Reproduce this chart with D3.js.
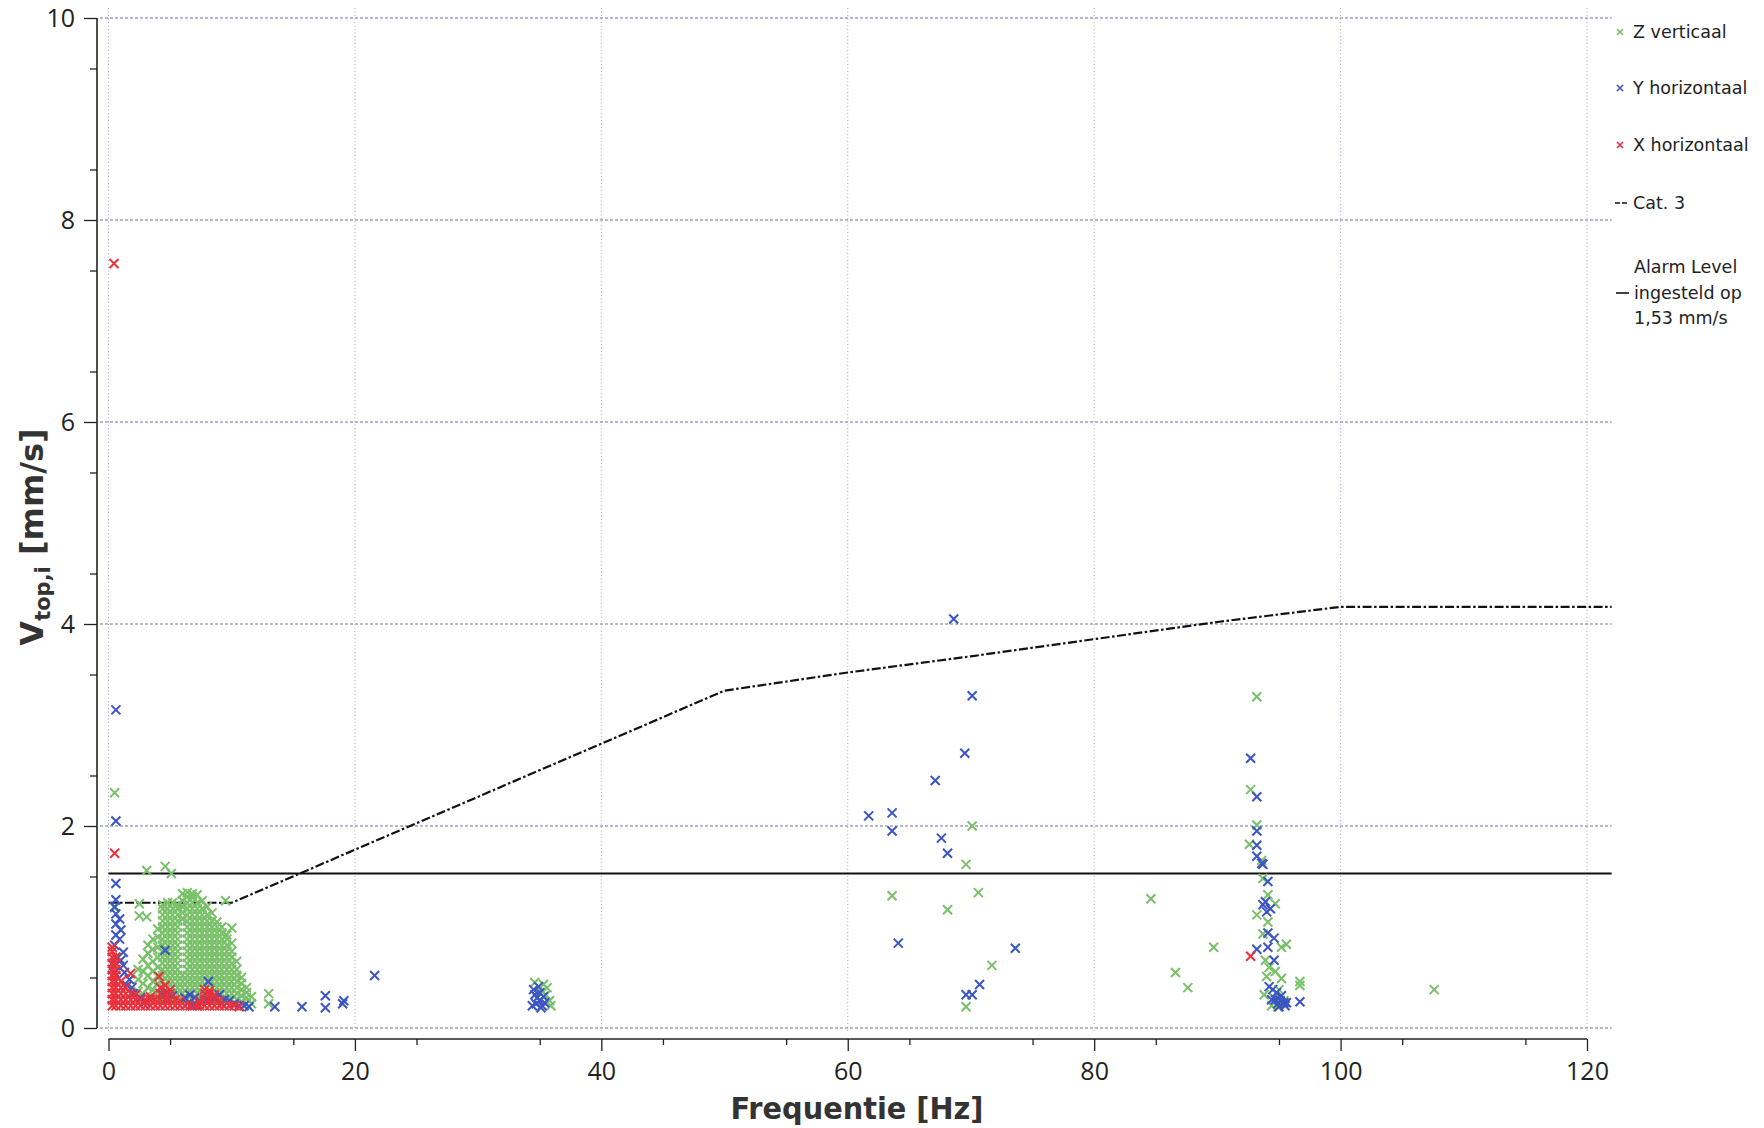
<!DOCTYPE html>
<html>
<head>
<meta charset="utf-8">
<script src="https://cdn.jsdelivr.net/npm/d3@7"></script>
<style>
  html, body { margin: 0; padding: 0; background: #fff; }
  svg { display: block; }
</style>
</head>
<body>
<svg id="chart" width="1764" height="1128"></svg>
<script>
// ---- axis ticks ----
const xTicks = [0, 20, 40, 60, 80, 100, 120];
const yTicks = [0, 2, 4, 6, 8, 10];

// ---- reference lines ----
const alarmLevel = 1.53;
const cat3Line = [[0, 1.24], [10, 1.24], [50, 3.34], [60, 3.52], [70, 3.68], [80, 3.85], [90, 4.02], [100, 4.17], [122, 4.17]];

// ---- Z verticaal: dense low-frequency body, per frequency column ----
const zColumns = [
  [2.4, [0.36, 0.48, 0.58]],
  [2.8, [0.34, 0.44, 0.56, 0.68]],
  [3.2, [0.30, 0.40, 0.52, 0.62, 0.74, 0.82]],
  [3.6, [0.30, 0.38, 0.46, 0.56, 0.66, 0.78, 0.88]],
  [4.0, [0.28, 0.36, 0.44, 0.52, 0.60, 0.70, 0.80, 0.90, 0.98]],
  [4.4, [0.28, 0.34, 0.40, 0.46, 0.52, 0.58, 0.64, 0.70, 0.76, 0.82, 0.88, 0.94, 1.00, 1.06, 1.12, 1.18, 1.22]],
  [4.8, [0.28, 0.34, 0.40, 0.46, 0.52, 0.58, 0.64, 0.70, 0.76, 0.82, 0.88, 0.94, 1.00, 1.06, 1.12, 1.18, 1.24]],
  [5.2, [0.28, 0.34, 0.40, 0.46, 0.52, 0.58, 0.64, 0.70, 0.76, 0.82, 0.88, 0.94, 1.00, 1.06, 1.12, 1.18, 1.24]],
  [5.6, [0.28, 0.34, 0.40, 0.46, 0.52, 0.58, 0.64, 0.70, 0.76, 0.82, 0.88, 0.94, 1.00, 1.06, 1.12, 1.18, 1.22]],
  [6.0, [0.28, 0.34, 0.40, 0.46, 0.52, 1.08, 1.14, 1.20, 1.26, 1.33]],
  [6.4, [0.28, 0.34, 0.40, 0.46, 0.52, 0.58, 0.64, 0.70, 0.76, 0.82, 0.88, 0.94, 1.00, 1.06, 1.12, 1.18, 1.24, 1.30, 1.34]],
  [6.8, [0.28, 0.34, 0.40, 0.46, 0.52, 0.58, 0.64, 0.70, 0.76, 0.82, 0.88, 0.94, 1.00, 1.06, 1.12, 1.18, 1.24, 1.30, 1.33]],
  [7.2, [0.28, 0.34, 0.40, 0.46, 0.52, 0.58, 0.64, 0.70, 0.76, 0.82, 0.88, 0.94, 1.00, 1.06, 1.12, 1.18, 1.24, 1.32]],
  [7.6, [0.28, 0.34, 0.40, 0.46, 0.52, 0.58, 0.64, 0.70, 0.76, 0.82, 0.88, 0.94, 1.00, 1.06, 1.12, 1.18, 1.26]],
  [8.0, [0.28, 0.34, 0.40, 0.46, 0.52, 0.58, 0.64, 0.70, 0.76, 0.82, 0.88, 0.94, 1.00, 1.06, 1.12, 1.20]],
  [8.4, [0.28, 0.34, 0.40, 0.46, 0.52, 0.58, 0.64, 0.70, 0.76, 0.82, 0.88, 0.94, 1.00, 1.06, 1.14]],
  [8.8, [0.28, 0.34, 0.40, 0.46, 0.52, 0.58, 0.64, 0.70, 0.76, 0.82, 0.88, 0.94, 1.00, 1.05]],
  [9.2, [0.28, 0.34, 0.40, 0.46, 0.52, 0.58, 0.64, 0.70, 0.76, 0.82, 0.88, 0.94, 1.00]],
  [9.6, [0.28, 0.34, 0.40, 0.46, 0.52, 0.58, 0.64, 0.70, 0.76, 0.82, 0.88, 0.92]],
  [10.0, [0.28, 0.34, 0.40, 0.46, 0.52, 0.58, 0.64, 0.70, 0.76, 0.84]],
  [10.4, [0.28, 0.34, 0.40, 0.46, 0.52, 0.58, 0.66]],
  [10.8, [0.26, 0.32, 0.38, 0.44, 0.50]],
  [11.2, [0.24, 0.30, 0.35, 0.40]],
  [11.6, [0.24, 0.31]]
];

// ---- Z verticaal: individual readings ----
const zPoints = [
  [0.5, 2.33], [0.5, 1.19], [3.1, 1.56], [4.6, 1.60], [5.1, 1.53], [2.5, 1.23], [2.5, 1.11], [3.1, 1.10],
  [9.5, 1.26], [10.0, 0.99], [13.0, 0.34], [13.0, 0.24],
  [35.6, 0.40], [35.3, 0.43], [35.8, 0.27], [35.5, 0.33], [35.9, 0.22], [34.6, 0.45], [35.2, 0.36],
  [70.1, 2.00], [69.6, 1.62], [63.6, 1.31], [70.6, 1.34], [68.1, 1.17], [71.7, 0.62], [69.6, 0.21],
  [84.6, 1.28], [86.6, 0.55], [87.6, 0.40], [89.7, 0.80],
  [93.2, 3.28], [92.7, 2.36], [93.2, 2.01], [92.6, 1.82], [93.6, 1.66], [93.7, 1.48], [94.1, 1.32], [94.7, 1.23],
  [93.2, 1.12], [94.1, 1.05], [93.7, 0.93], [95.6, 0.83], [95.2, 0.80], [93.9, 0.67], [94.7, 0.56], [95.2, 0.49],
  [94.0, 0.51], [96.7, 0.46], [96.7, 0.42], [93.8, 0.33], [94.9, 0.21], [94.4, 0.22], [94.2, 0.60], [95.0, 0.38],
  [94.6, 0.30], [95.4, 0.27],
  [107.6, 0.38]
];

// ---- Y horizontaal ----
const yPoints = [
  [0.6, 3.15], [0.6, 2.05], [0.6, 1.43], [0.6, 1.27], [0.5, 1.20], [0.6, 1.13], [0.9, 1.08], [0.6, 1.03],
  [1.0, 0.97], [0.6, 0.92], [0.9, 0.88], [0.5, 0.82], [1.2, 0.75], [0.6, 0.70], [1.0, 0.67], [0.4, 0.62],
  [0.5, 0.55], [1.3, 0.55], [1.7, 0.48], [1.5, 0.42], [1.9, 0.40], [2.0, 0.34], [1.2, 0.62], [4.6, 0.77], [8.1, 0.46],
  [4.4, 0.33], [4.8, 0.35], [5.2, 0.32], [4.6, 0.28], [6.2, 0.30], [6.6, 0.33], [7.0, 0.30], [7.4, 0.27],
  [6.4, 0.24], [6.8, 0.22], [7.2, 0.22], [8.6, 0.30], [9.0, 0.33], [9.4, 0.28], [9.2, 0.24], [9.8, 0.27],
  [10.2, 0.24], [10.6, 0.22], [11.0, 0.22], [11.4, 0.21], [3.0, 0.26], [2.6, 0.30], [8.0, 0.28],
  [13.5, 0.21], [15.7, 0.21], [17.6, 0.32], [17.6, 0.20], [19.1, 0.27], [19.0, 0.24], [21.6, 0.52],
  [34.5, 0.38], [34.6, 0.33], [34.8, 0.30], [35.0, 0.27], [34.7, 0.24], [35.2, 0.22], [35.0, 0.35],
  [35.3, 0.31], [34.9, 0.41], [35.4, 0.25], [34.4, 0.22], [35.1, 0.20],
  [68.6, 4.05], [70.1, 3.29], [69.5, 2.72], [67.1, 2.45], [61.7, 2.10], [63.6, 2.13], [63.6, 1.95], [67.6, 1.88],
  [68.1, 1.73], [64.1, 0.84], [73.6, 0.79], [70.7, 0.43], [69.6, 0.33], [70.1, 0.33],
  [93.7, 1.62], [94.1, 1.45], [93.7, 1.22], [94.0, 1.15], [94.1, 0.94], [94.6, 0.89], [94.1, 0.80], [93.2, 0.78],
  [94.6, 0.67], [94.2, 0.41], [94.5, 0.38], [94.8, 0.35], [95.2, 0.32], [95.4, 0.25], [96.7, 0.26], [94.7, 0.28],
  [95.0, 0.21], [94.4, 0.28], [92.7, 2.67], [93.2, 2.29], [93.2, 1.95], [93.2, 1.81], [93.2, 1.70], [93.6, 1.63],
  [93.9, 1.25], [94.3, 1.18], [95.6, 0.25], [95.1, 0.27], [94.9, 0.24], [95.5, 0.22]
];

// ---- X horizontaal: dense low-frequency band, per frequency column ----
const xColumns = [
  [0.3, [0.22, 0.28, 0.34, 0.40, 0.46, 0.52, 0.58, 0.64, 0.70, 0.76, 0.80]],
  [0.6, [0.22, 0.28, 0.34, 0.40, 0.46, 0.52, 0.58, 0.64, 0.70]],
  [1.0, [0.22, 0.28, 0.34, 0.40, 0.46]],
  [1.4, [0.22, 0.28, 0.34, 0.40]],
  [1.8, [0.22, 0.28, 0.34]],
  [2.2, [0.22, 0.28, 0.33]],
  [2.6, [0.22, 0.28]],
  [3.0, [0.22, 0.28]],
  [3.4, [0.22, 0.28, 0.31]],
  [3.8, [0.22, 0.28]],
  [4.2, [0.22, 0.28, 0.34, 0.40]],
  [4.6, [0.22, 0.28, 0.34, 0.42]],
  [5.0, [0.22, 0.28, 0.34, 0.38]],
  [5.4, [0.22, 0.28]],
  [5.8, [0.22, 0.27]],
  [6.2, [0.22]],
  [6.6, [0.22]],
  [7.0, [0.22]],
  [7.4, [0.22, 0.26]],
  [7.8, [0.22, 0.28, 0.34, 0.38]],
  [8.2, [0.22, 0.28, 0.34, 0.37]],
  [8.6, [0.22, 0.28, 0.33]],
  [9.0, [0.22, 0.27]],
  [9.4, [0.22]],
  [9.8, [0.22]],
  [10.2, [0.22]],
  [10.6, [0.21]]
];
const xPoints = [[0.45, 7.57], [0.5, 1.73], [1.8, 0.54], [4.1, 0.51], [92.7, 0.71]];

// ---- legend entries ----
const legendSeries = ["Z verticaal", "Y horizontaal", "X horizontaal"];
const legendCat3 = "Cat. 3";
const legendAlarm = ["Alarm Level", "ingesteld op", "1,53 mm/s"];

const colors = { Z: "#79c069", Y: "#3b55c2", X: "#e9303b" };

const svg = d3.select("#chart");
const x = d3.scaleLinear().domain([0, 120]).range([108.5, 1587]);
const y = d3.scaleLinear().domain([0, 10]).range([1028, 18]);
const xRight = 122;

// gridlines
const grid = svg.append("g");
grid.selectAll("line.h").data(yTicks).join("line")
  .attr("x1", 100).attr("x2", x(xRight))
  .attr("y1", d => y(d)).attr("y2", d => y(d))
  .attr("stroke", "#6e72a0").attr("stroke-width", 1.1).attr("stroke-dasharray", "3,2");
grid.selectAll("line.v").data(xTicks).join("line")
  .attr("x1", d => x(d)).attr("x2", d => x(d))
  .attr("y1", 8).attr("y2", 1032)
  .attr("stroke", "#a4a6c4").attr("stroke-width", 1).attr("stroke-dasharray", "1,2.5");

// axes
const tickFont = "'Open Sans', 'DejaVu Sans', sans-serif";
const yAxis = svg.append("g").attr("transform", "translate(97,0)")
  .call(d3.axisLeft(y).tickValues(yTicks).tickSize(13).tickPadding(9).tickFormat(d3.format("d")));
svg.append("g").attr("transform", "translate(97,0)")
  .call(d3.axisLeft(y).tickValues(d3.range(0.5, 10, 1)).tickSize(7).tickFormat(""))
  .select(".domain").remove();
const xAxis = svg.append("g").attr("transform", "translate(0,1039)")
  .call(d3.axisBottom(x).tickValues(xTicks).tickSize(12).tickPadding(11).tickFormat(d3.format("d")));
svg.append("g").attr("transform", "translate(0,1039)")
  .call(d3.axisBottom(x).tickValues(d3.range(5, 120, 10)).tickSize(6).tickFormat(""))
  .select(".domain").remove();
svg.selectAll(".domain").attr("stroke", "#222").attr("stroke-width", 1.6);
svg.selectAll(".tick line").attr("stroke", "#222").attr("stroke-width", 1.3);
svg.selectAll(".tick text").attr("font-family", tickFont).attr("font-size", 25).attr("fill", "#222");
// axis lines end flush with the data range
yAxis.select(".domain").attr("d", `M0,${y(10)}V${y(0)}`);
xAxis.select(".domain").attr("d", `M${x(0)},0H${x(120)}`);

// reference lines
svg.append("line")
  .attr("x1", x(0)).attr("x2", x(xRight))
  .attr("y1", y(alarmLevel)).attr("y2", y(alarmLevel))
  .attr("stroke", "#111").attr("stroke-width", 2);
svg.append("path")
  .datum(cat3Line)
  .attr("d", d3.line().x(d => x(d[0])).y(d => y(d[1])))
  .attr("fill", "none").attr("stroke", "#111").attr("stroke-width", 2.2)
  .attr("stroke-dasharray", "9,2.5,2.5,2.5");

// scatter marks
const cross = "M-4.5,-4.5L4.5,4.5M-4.5,4.5L4.5,-4.5";
function flatten(cols) {
  const out = [];
  cols.forEach(([f, vals]) => vals.forEach(v => out.push([f, v])));
  return out;
}
function drawSeries(data, color) {
  svg.append("g").selectAll("path").data(data).join("path")
    .attr("d", cross)
    .attr("transform", d => `translate(${x(d[0])},${y(d[1])})`)
    .attr("fill", "none").attr("stroke", color).attr("stroke-width", 2);
}
drawSeries(flatten(zColumns).concat(zPoints), colors.Z);
drawSeries(yPoints, colors.Y);
drawSeries(flatten(xColumns).concat(xPoints), colors.X);

// axis titles
svg.append("text")
  .attr("x", 857).attr("y", 1119)
  .attr("text-anchor", "middle")
  .attr("font-family", "'DejaVu Sans', sans-serif").attr("font-weight", "bold")
  .attr("font-size", 31).attr("fill", "#333")
  .attr("textLength", 253).attr("lengthAdjust", "spacingAndGlyphs")
  .text("Frequentie [Hz]");

const yTitle = svg.append("text")
  .attr("transform", "translate(43,537) rotate(-90)")
  .attr("text-anchor", "middle")
  .attr("font-family", "'DejaVu Sans', sans-serif").attr("font-weight", "bold")
  .attr("font-size", 32).attr("fill", "#333");
yTitle.append("tspan").text("V");
yTitle.append("tspan").attr("font-size", 21).attr("dy", 7).text("top,i");
yTitle.append("tspan").attr("dy", -7).text(" [mm/s]");

// legend
const legend = svg.append("g").attr("font-family", "'DejaVu Sans', sans-serif").attr("font-size", 17.5).attr("fill", "#222");
const legRows = [32, 88, 145];
const legColors = [colors.Z, colors.Y, colors.X];
legendSeries.forEach((name, i) => {
  legend.append("path").attr("d", "M-3,-3L3,3M-3,3L3,-3")
    .attr("transform", `translate(1620,${legRows[i]})`)
    .attr("stroke", legColors[i]).attr("stroke-width", 1.6).attr("fill", "none");
  legend.append("text").attr("x", 1633).attr("y", legRows[i]).attr("dy", "0.35em").text(name);
});
legend.append("line").attr("x1", 1615).attr("x2", 1629).attr("y1", 203).attr("y2", 203)
  .attr("stroke", "#111").attr("stroke-width", 1.6).attr("stroke-dasharray", "5,2");
legend.append("text").attr("x", 1633).attr("y", 203).attr("dy", "0.35em").text(legendCat3);
legend.append("line").attr("x1", 1616).attr("x2", 1629).attr("y1", 293).attr("y2", 293)
  .attr("stroke", "#111").attr("stroke-width", 1.6);
legendAlarm.forEach((t, i) => {
  legend.append("text").attr("x", 1634).attr("y", 267 + i * 25.5).attr("dy", "0.35em").text(t);
});
</script>
</body>
</html>
